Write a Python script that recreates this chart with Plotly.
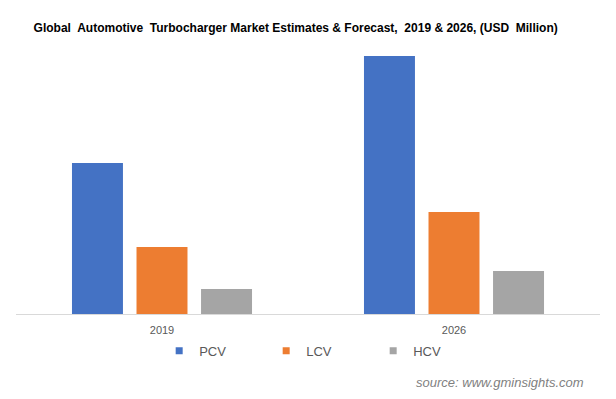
import plotly.graph_objects as go

years = ["2019", "2026"]
series_names = ["PCV", "LCV", "HCV"]
pcv = [5910, 10100]
lcv = [2620, 3990]
hcv = [980, 1680]
colors = ["#4472C4", "#ED7D31", "#A5A5A5"]

fig = go.Figure()
for name, vals, c in zip(series_names, [pcv, lcv, hcv], colors):
    fig.add_trace(go.Bar(x=years, y=vals, name=name, showlegend=False,
                         marker=dict(color=c, line=dict(width=0))))
# legend entries with small square symbols
for name, c in zip(series_names, colors):
    fig.add_trace(go.Scatter(x=[None], y=[None], mode="markers", name=name,
                             marker=dict(symbol="square", size=7, color=c)))

fig.update_layout(
    width=616, height=399,
    paper_bgcolor="white", plot_bgcolor="white",
    margin=dict(l=16, r=16, t=40, b=85),
    barmode="group", bargap=0.337, bargroupgap=0.21,
    font=dict(family="Liberation Sans, Arial, sans-serif", color="#595959", size=11),
    title=dict(text="<b>Global  Automotive  Turbocharger Market Estimates & Forecast,  2019 & 2026, (USD  Million)</b>",
               x=0.48, xanchor="center", y=0.93, yanchor="middle",
               font=dict(size=12, color="#000000", family="Liberation Sans, Arial, sans-serif")),
    xaxis=dict(showline=True, linecolor="#D9D9D9", linewidth=1, ticks="", showgrid=False,
               tickfont=dict(size=11, color="#595959"), ticklabelstandoff=6, automargin=False),
    yaxis=dict(visible=False, range=[0, 10726], showgrid=False, zeroline=False, automargin=False),
    legend=dict(orientation="h", x=0.52, xanchor="center", y=-0.08, yanchor="top",
                font=dict(size=13, color="#595959"), entrywidth=62, itemwidth=30),
    showlegend=True,
)
fig.add_annotation(text="<i>source: www.gminsights.com</i>", xref="paper", yref="paper",
                   x=1.0, xanchor="right", y=-0.25, yanchor="middle", showarrow=False,
                   xshift=-14, font=dict(size=13, color="#7F7F7F"))
fig.write_html("out.html", config={"displayModeBar": False})

with open("out.html", "r", encoding="utf-8") as f:
    html = f.read()
html = html.replace("<body>", '<body style="margin:0;">', 1)
with open("out.html", "w", encoding="utf-8") as f:
    f.write(html)
